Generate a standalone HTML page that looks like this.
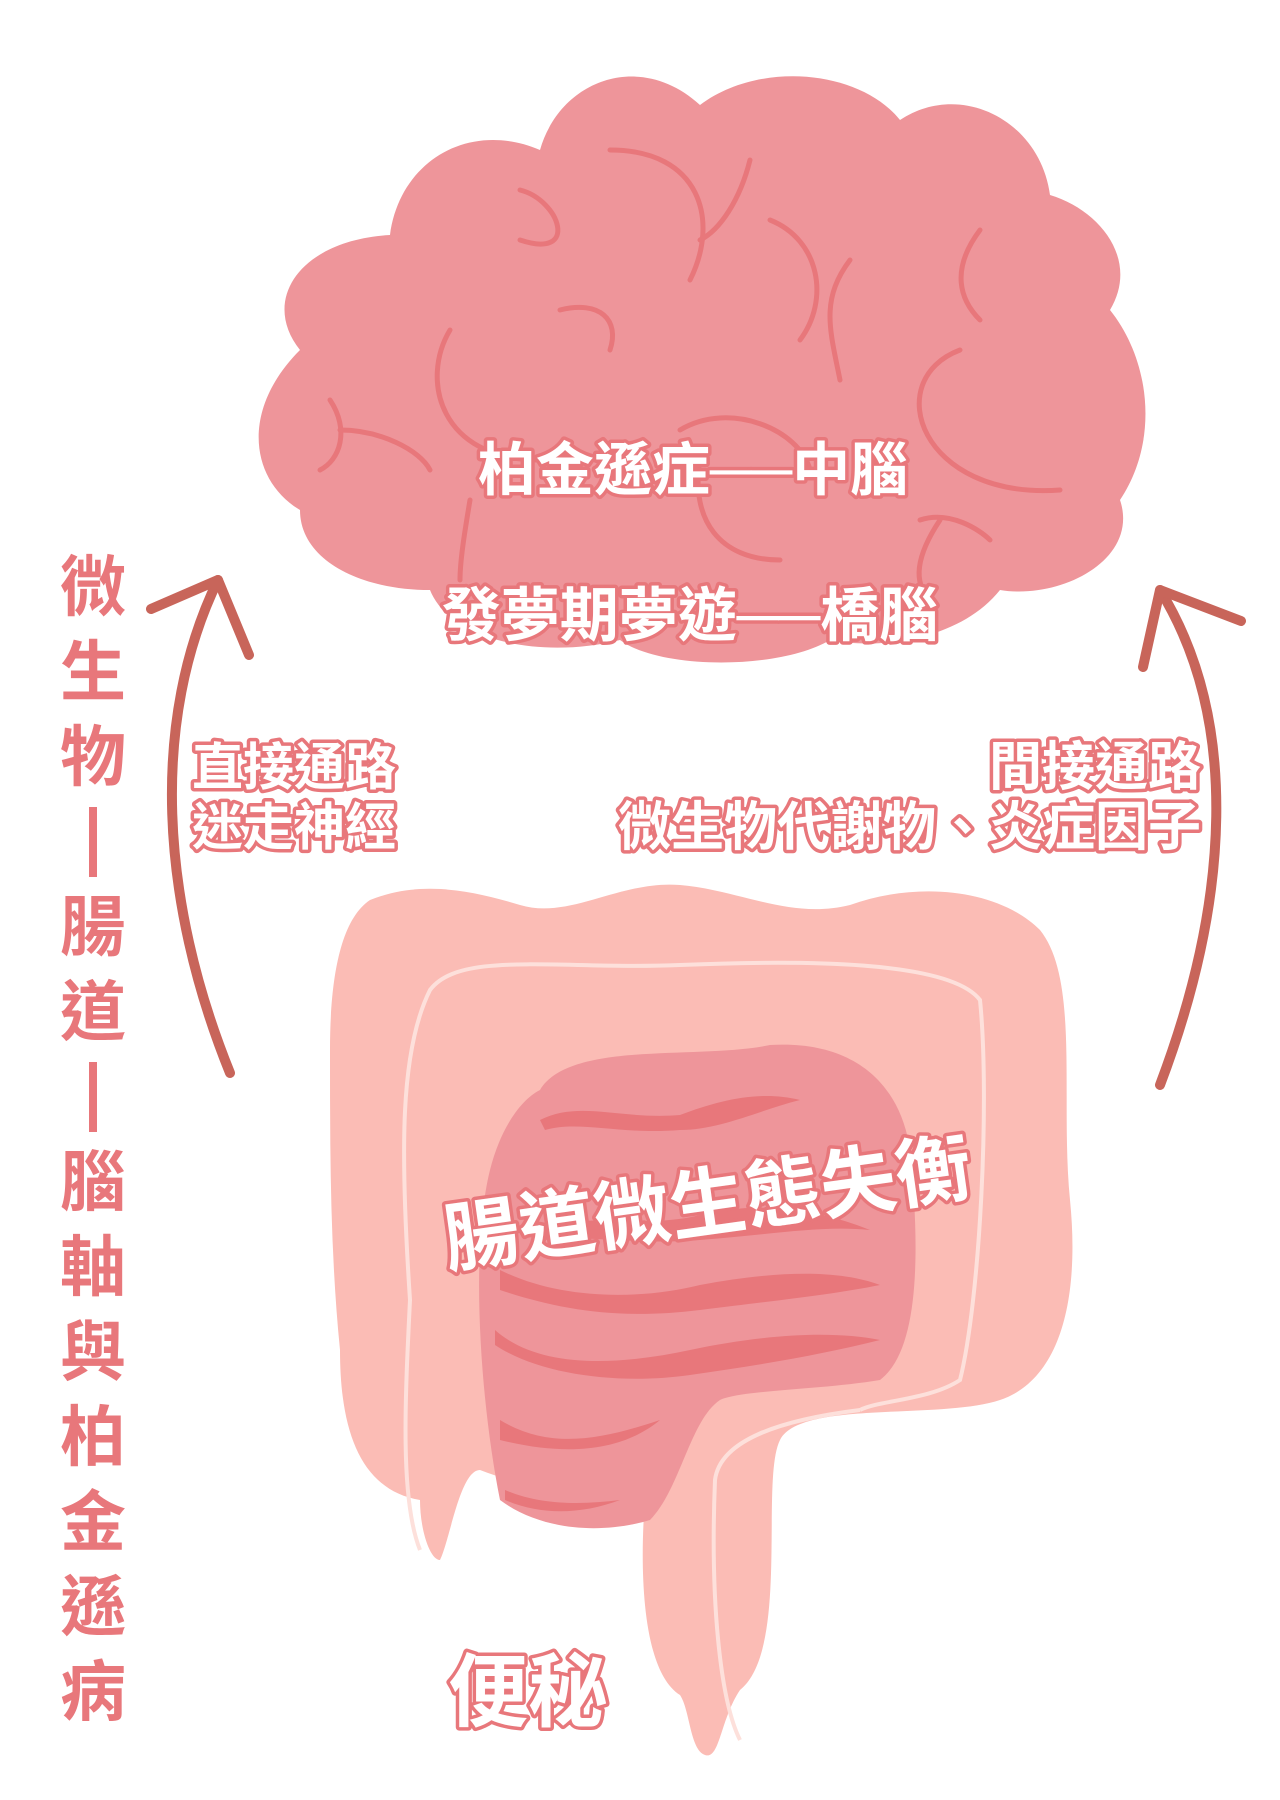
<!DOCTYPE html>
<html><head><meta charset="utf-8"><style>
html,body{margin:0;padding:0;background:#fff;}
svg{display:block}
.t{font-family:"Liberation Sans","Noto Sans CJK TC",sans-serif;font-weight:bold;fill:#fff;stroke:#e8777b;stroke-width:7px;paint-order:stroke;stroke-linejoin:round}
</style></head><body>
<svg width="1280" height="1800" viewBox="0 0 1280 1800" xmlns="http://www.w3.org/2000/svg">
<path d="M300 350 C260 300 300 240 390 235 C400 160 470 120 540 150 C560 80 640 50 700 105 C760 60 860 70 900 120 C960 80 1040 120 1050 195 C1100 210 1140 260 1110 310 C1150 360 1160 440 1120 500 C1140 560 1060 600 1000 590 C960 640 880 650 830 640 C780 670 660 670 620 640 C540 660 450 640 430 590 C360 590 300 560 300 510 C250 480 240 410 300 350 Z" fill="#ee959a"/>
<g fill="none" stroke="#e8777b" stroke-width="5" stroke-linecap="round">
<path d="M450 330 C420 380 440 460 540 460"/><path d="M520 190 C560 200 580 260 520 240"/>
<path d="M610 150 C700 150 720 220 690 280"/><path d="M750 160 C740 200 720 230 700 240"/>
<path d="M770 220 C820 240 830 300 800 340"/><path d="M850 260 C820 300 830 330 840 380"/>
<path d="M980 230 C950 270 960 300 980 320"/><path d="M960 350 C880 380 920 500 1060 490"/>
<path d="M330 400 C350 430 340 460 320 470"/><path d="M340 430 C380 430 420 450 430 470"/>
<path d="M680 430 C730 400 800 430 810 470"/><path d="M700 460 C690 520 720 560 780 560"/>
<path d="M920 520 C950 510 980 530 990 540"/><path d="M940 520 C920 550 910 580 930 600"/>
<path d="M560 310 C600 300 620 320 610 350"/><path d="M470 500 C465 530 460 560 460 580"/>
</g>
<text class="t" x="693" y="490" font-size="58" text-anchor="middle">柏金遜症──中腦</text>
<text class="t" x="690" y="636" font-size="59" text-anchor="middle">發夢期夢遊──橋腦</text>
<g fill="none" stroke="#c8655a" stroke-width="10" stroke-linecap="round" stroke-linejoin="round">
<path d="M230 1073 C160 900 150 720 218 580"/>
<path d="M151 609 L218 580 L249 655"/>
<path d="M1160 1085 C1230 900 1240 720 1160 590"/>
<path d="M1143 667 L1160 590 L1241 621"/>
</g>
<g font-family="'Liberation Sans','Noto Sans CJK TC',sans-serif" font-size="66" fill="#e8777b" text-anchor="middle" font-weight="bold">
<text x="93" y="610">微</text><text x="93" y="695">生</text><text x="93" y="780">物</text>
<rect x="89" y="807" width="8" height="70"/>
<text x="93" y="950">腸</text><text x="93" y="1035">道</text>
<rect x="89" y="1062" width="8" height="70"/>
<text x="93" y="1205">腦</text><text x="93" y="1290">軸</text><text x="93" y="1375">與</text>
<text x="93" y="1460">柏</text><text x="93" y="1545">金</text><text x="93" y="1630">遜</text><text x="93" y="1715">病</text>
</g>
<text class="t" x="192" y="785" font-size="51">直接通路</text>
<text class="t" x="192" y="845" font-size="51">迷走神經</text>
<text class="t" x="1201" y="785" font-size="53" text-anchor="end">間接通路</text>
<text class="t" x="1201" y="845" font-size="53" text-anchor="end">微生物代謝物、炎症因子</text>
<path d="M370 900 C420 880 470 890 520 905 C570 920 620 880 680 885 C740 890 790 920 850 905 C920 880 1000 890 1040 930 C1080 980 1060 1100 1070 1200 C1080 1300 1060 1380 1000 1400 C940 1420 800 1400 780 1440 C760 1480 790 1650 740 1690 C720 1720 720 1760 705 1755 C690 1750 690 1710 680 1695 C640 1670 640 1560 645 1500 C630 1510 560 1500 480 1470 C460 1470 450 1540 440 1560 C430 1560 420 1530 420 1500 C360 1490 340 1430 340 1350 C330 1250 330 1150 330 1050 C330 980 340 920 370 900 Z" fill="#fbbcb5"/>
<path d="M420 1550 C400 1500 405 1400 410 1300 C400 1150 400 1050 430 990 C460 950 560 970 680 965 C800 960 950 960 980 1000 C990 1100 980 1300 960 1380 C930 1400 880 1400 860 1410" fill="none" stroke="#fde0db" stroke-width="4"/>
<path d="M740 1740 C720 1700 710 1600 715 1480 C720 1440 780 1420 860 1410" fill="none" stroke="#fde0db" stroke-width="4"/>
<path d="M540 1090 C570 1040 700 1060 770 1045 C850 1040 900 1080 910 1150 C920 1250 920 1350 880 1380 C820 1390 740 1390 720 1400 C690 1420 680 1490 650 1520 C600 1535 540 1530 500 1500 C480 1400 470 1250 490 1170 C500 1130 520 1100 540 1090 Z" fill="#ee959a"/>
<g fill="#e8777b">
<path d="M540 1120 C580 1100 620 1120 680 1115 C720 1100 760 1090 800 1100 C760 1110 720 1130 680 1130 C620 1135 580 1120 545 1130 Z"/>
<path d="M545 1230 C590 1210 640 1230 700 1215 C760 1200 820 1210 870 1230 C820 1225 770 1235 700 1240 C640 1245 590 1235 545 1240 Z"/>
<path d="M500 1270 C560 1300 640 1300 700 1285 C780 1270 840 1270 880 1285 C830 1295 780 1300 700 1310 C620 1320 560 1310 500 1290 Z"/>
<path d="M495 1330 C540 1370 620 1365 690 1350 C760 1335 830 1330 880 1340 C820 1355 760 1365 690 1375 C620 1385 540 1375 495 1345 Z"/>
<path d="M500 1420 C550 1450 600 1440 660 1420 C630 1445 580 1460 500 1440 Z"/>
<path d="M505 1490 C540 1505 580 1505 620 1500 C580 1515 540 1515 505 1500 Z"/>
</g>
<text class="t" x="708" y="1230" font-size="76" text-anchor="middle" transform="rotate(-8 708 1207)">腸道微生態失衡</text>
<text class="t" x="528" y="1720" font-size="80" text-anchor="middle">便秘</text>
</svg>
</body></html>
